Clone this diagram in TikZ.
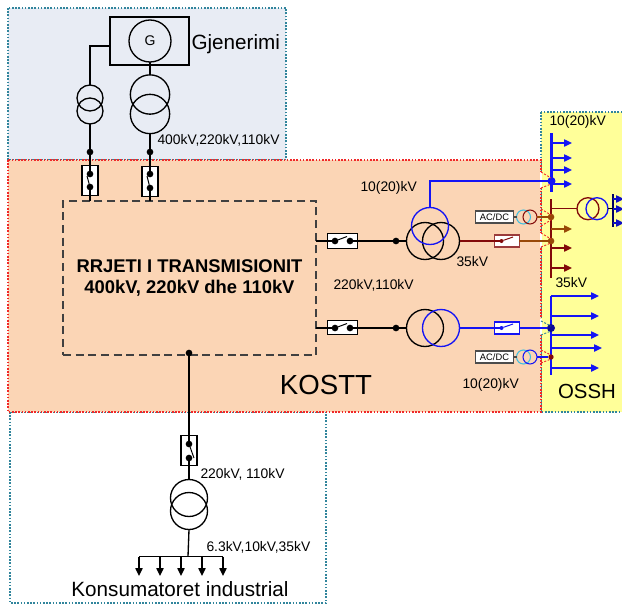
\documentclass[tikz,border=0pt]{standalone}
\usepackage{fontspec}
\setmainfont{Liberation Sans}
\usetikzlibrary{arrows.meta}
\definecolor{genfill}{RGB}{232,236,244}
\definecolor{kosttfill}{RGB}{251,213,181}
\definecolor{osshfill}{RGB}{255,255,153}
\definecolor{edgeteal}{RGB}{49,133,156}
\definecolor{edgered}{RGB}{240,40,40}
\definecolor{hvblue}{RGB}{20,20,245}
\definecolor{mvred}{RGB}{130,10,10}
\definecolor{tapbrown}{RGB}{152,72,7}
\definecolor{acblue}{RGB}{60,190,225}

\tikzset{every picture/.style={line width=0.75pt}}
\tikzset{
	region/.style={draw=edgeteal, line width=0.8pt, dash pattern=on 1.2pt off 1.2pt},
	regionred/.style={draw=edgered, line width=0.9pt, dash pattern=on 1.2pt off 1.2pt},
	coil/.style={draw, circle, inner sep=0pt, outer sep=0pt, line width=1pt},
	coilbig/.style={coil, minimum size=28.5pt},
	coilsmall/.style={coil, minimum size=19.5pt},
	coilmini/.style={coil, minimum size=10.5pt, line width=0.8pt},
	swbox/.style={draw, fill=white, inner sep=0pt, outer sep=0pt, line width=0.8pt},
	swv/.style={swbox, minimum width=12pt, minimum height=22pt},
	swh/.style={swbox, minimum width=23pt, minimum height=11pt},
	swhs/.style={swbox, minimum width=18.5pt, minimum height=9pt},
	acbox/.style={draw=black!70, fill=white, line width=0.9pt, inner sep=0pt, minimum width=29pt, minimum height=9pt, font=\fontsize{7}{8}\selectfont},
	dot/.style={circle, fill, inner sep=0pt, outer sep=0pt, minimum size=5pt},
	dotbig/.style={dot, minimum size=6pt},
	wire/.style={line width=1pt},
	blade/.style={line width=0.75pt},
	bus/.style={line width=1.6pt},
	feeder/.style={line width=1pt, -{Triangle[length=6pt,width=5.5pt]}},
	tap/.style={line width=0.7pt, dash pattern=on 1.5pt off 1.2pt},
	lbl/.style={inner sep=0pt, font=\fontsize{10.4}{12}\selectfont},
	lblbig/.style={inner sep=0pt, font=\fontsize{15.5}{18}\selectfont}
}

\begin{document}
\begin{tikzpicture}[x=0.75pt,y=0.75pt,yscale=-1]
	\useasboundingbox (0,0) rectangle (622,604);
	% areas
	\draw [region, fill=genfill] (8,8) rectangle (286,160);
	\draw [region] (10,412) rectangle (326,603);
	\draw [region, fill=osshfill] (541,112) rectangle (624,412);
	\draw [regionred, fill=kosttfill] (8,160) rectangle (541,412);
	\fill [white] (539.5,172) rectangle (542,188);
	\fill [white] (539.5,233) rectangle (542,247);
	\fill [white] (539.5,319) rectangle (542,334);

	% generation
	\node [draw, line width=0.8pt, minimum width=59.25pt, minimum height=36pt, inner sep=0pt, outer sep=0pt] (genbox) at (149.5,41) {};
	\node [coil, minimum size=31.5pt, font=\fontsize{10.5}{12}\selectfont] (gen) at (150,41) {G};
	\node [coilbig, minimum size=29.5pt] (tgA) at (150,94.5) {};
	\node [coilbig, minimum size=29.5pt] (tgB) at (150,114) {};
	\node [coilsmall] (tsA) at (90,98) {};
	\node [coilsmall] (tsB) at (90,111) {};
	\coordinate (genbend) at (90,46);
	\coordinate (genout) at (110,46);
	\draw [wire] (genout) -- (genbend) -- (tsA.north);
	\draw [wire] (gen.south) -- (tgA.north);

	% main grid
	\node [draw=black!75, line width=1pt, dash pattern=on 6pt off 3.5pt, minimum width=189.75pt, minimum height=115.5pt, inner sep=0pt, outer sep=0pt] (grid) at (189.5,278) {};
	\node [inner sep=0pt, align=center, font=\fontsize{13.8}{15.75}\selectfont\bfseries] (gridlabel) at (189.5,277.5) {RRJETI I TRANSMISIONIT\\400kV, 220kV dhe 110kV};

	% switches to the generators
	\node [swv] (swgA) at (90,180.5) {};
	\node [swv] (swgB) at (150,181.5) {};
	\node [dot] (swgAa) at (90,174) {};
	\node [dot] (swgAb) at (90,187) {};
	\node [dot] (swgBa) at (150,174) {};
	\node [dot] (swgBb) at (150,188) {};
	\node [dot] (jgA) at (90,152) {};
	\node [dot] (jgB) at (150,152) {};
	\draw [wire] (tsB.south) -- (jgA) -- (swgAa);
	\draw [wire] (swgAb) -- (swgAb |- grid.north);
	\draw [wire] (tgB.south) -- (jgB) -- (swgBa);
	\draw [wire] (swgBb) -- (swgBb |- grid.north);
	\draw [blade] (swgAa.center) ++(-3,2) -- (swgAb);
	\draw [blade] (swgBa.center) ++(-3,2) -- (swgBb);

	% three winding transformer
	\node [swh] (swA) at (342.5,241) {};
	\node [dot] (swAa) at (335,241) {};
	\node [dot] (swAb) at (350,241) {};
	\node [dot] (jA) at (396,241) {};
	\node [coil, minimum size=27.75pt] (twA) at (425,241) {};
	\node [coil, minimum size=27.75pt] (twB) at (441,241) {};
	\node [coil, draw=hvblue, minimum size=27.75pt] (twC) at (430,226) {};
	\draw [wire] (grid.east |- swA) -- (swAa);
	\draw [blade] (swAa) -- (347,236.5);
	\draw [wire] (swAb) -- (jA) -- (twA.west);

	% two winding transformer
	\node [swh] (swB) at (342.5,327.5) {};
	\node [dot] (swBa) at (335,328) {};
	\node [dot] (swBb) at (350,328) {};
	\node [dot] (jB) at (396,328) {};
	\node [coil, minimum size=27.75pt] (tlA) at (425,328) {};
	\node [coil, draw=hvblue, minimum size=27.75pt] (tlB) at (441,328) {};
	\draw [wire] (grid.east |- swBa) -- (swBa);
	\draw [blade] (swBa) -- (347,323.5);
	\draw [wire] (swBb) -- (jB) -- (tlA.west);

	% upper blue bus
	\coordinate (busAt) at (551.5,133);
	\coordinate (busAb) at (551.5,192);
	\draw [bus, hvblue] (busAt) -- (busAb);
	\node [dotbig, hvblue] (jC) at (551.5,181) {};
	\coordinate (bendC) at (430,181);
	\draw [wire, hvblue] (twC.north) -- (bendC) -- (jC);
	\coordinate (fa1) at (551.5,143);
	\coordinate (fa1e) at (572,143);
	\coordinate (fa2) at (551.5,158);
	\coordinate (fa2e) at (572,158);
	\coordinate (fa3) at (551.5,170);
	\coordinate (fa3e) at (572,170);
	\coordinate (fa4) at (551.5,184);
	\coordinate (fa4e) at (572,184);
	\draw [feeder, hvblue] (fa1) -- (fa1e);
	\draw [feeder, hvblue] (fa2) -- (fa2e);
	\draw [feeder, hvblue] (fa3) -- (fa3e);
	\draw [feeder, hvblue] (fa4) -- (fa4e);

	% dark red bus
	\coordinate (busBt) at (551,199);
	\coordinate (busBb) at (551,278);
	\draw [bus, mvred] (busBt) -- (busBb);
	\node [swhs, draw=mvred!80] (swC) at (507,241) {};
	\node [dot, mvred, minimum size=3pt] (swCa) at (501.5,241) {};
	\node [dot, tapbrown] (jD) at (551,241) {};
	\node [dot, tapbrown] (jE) at (551,217) {};
	\draw [wire, mvred] (twB.east) -- (swCa);
	\draw [blade, mvred] (swCa) -- (513,237);
	\draw [wire, tapbrown] (swC.east) -- (jD);
	\coordinate (fb1) at (551,229);
	\coordinate (fb1e) at (572,229);
	\coordinate (fb2) at (551,248);
	\coordinate (fb2e) at (572,248);
	\coordinate (fb3) at (551,268);
	\coordinate (fb3e) at (572,268);
	\draw [feeder, tapbrown] (fb1) -- (fb1e);
	\draw [feeder, mvred] (fb2) -- (fb2e);
	\draw [feeder, mvred] (fb3) -- (fb3e);

	% small transformer in the yellow area
	\node [coil, draw=mvred, minimum size=16.5pt] (toA) at (588,208.7) {};
	\node [coil, draw=hvblue, minimum size=16.5pt] (toB) at (597,208.7) {};
	\coordinate (busCt) at (613,194);
	\coordinate (busCb) at (613,227);
	\coordinate (busCm) at (613,208.7);
	\coordinate (outA) at (551,208.7);
	\draw [line width=1.1pt, black!60!blue] (busCt) -- (busCb);
	\draw [wire, mvred] (outA) -- (toA.west);
	\draw [wire, black] (toB.east) -- (busCm);
	\coordinate (fc1) at (613,199);
	\coordinate (fc1e) at (624,199);
	\coordinate (fc2) at (613,209);
	\coordinate (fc2e) at (624,209);
	\coordinate (fc3) at (613,223);
	\coordinate (fc3e) at (624,223);
	\draw [feeder, hvblue!80!black] (fc1) -- (fc1e);
	\draw [feeder, hvblue!80!black] (fc2) -- (fc2e);
	\draw [feeder, hvblue!80!black] (fc3) -- (fc3e);

	% upper rectifier
	\node [acbox] (acA) at (494.5,217) {AC/DC};
	\node [coilmini, draw=acblue] (acAa) at (523.5,217) {};
	\node [coilmini, draw=mvred] (acAb) at (530,217) {};
	\draw [wire, tapbrown] (acAb.east) -- (jE);
	\draw [wire, black!70] (acA.east) -- (acAa.west);

	% lower blue bus
	\coordinate (busDt) at (551,296);
	\coordinate (busDb) at (551,375);
	\draw [bus, hvblue] (busDt) -- (busDb);
	\node [swhs, draw=hvblue] (swD) at (507,328) {};
	\node [dot, hvblue, minimum size=3pt] (swDa) at (501.5,328) {};
	\node [dotbig, black!40!hvblue] (jF) at (551,328) {};
	\node [dot, mvred, minimum size=4pt] (jG) at (551,357) {};
	\draw [wire, hvblue] (tlB.east) -- (swDa);
	\draw [blade, hvblue] (swDa) -- (513,324);
	\draw [wire, hvblue] (swD.east) -- (jF);
	\coordinate (fd1) at (551,296);
	\coordinate (fd1e) at (599,296);
	\coordinate (fd2) at (551,316);
	\coordinate (fd2e) at (599,316);
	\coordinate (fd3) at (551,335);
	\coordinate (fd3e) at (599,335);
	\coordinate (fd4) at (551,348);
	\coordinate (fd4e) at (602,348);
	\coordinate (fd5) at (551,368);
	\coordinate (fd5e) at (599,368);
	\draw [feeder, hvblue] (fd1) -- (fd1e);
	\draw [feeder, hvblue] (fd2) -- (fd2e);
	\draw [feeder, hvblue] (fd3) -- (fd3e);
	\draw [feeder, hvblue] (fd4) -- (fd4e);
	\draw [feeder, hvblue] (fd5) -- (fd5e);

	% lower rectifier
	\node [acbox] (acB) at (494.5,357) {AC/DC};
	\node [coilmini, draw=acblue] (acBa) at (523.5,357) {};
	\node [coilmini, draw=hvblue] (acBb) at (530,357) {};
	\draw [wire, hvblue] (acBb.east) -- (jG);
	\draw [wire, black!70] (acB.east) -- (acBa.west);

	% dotted tails at the border
	\draw [tap, edgered] (541,172) -- (551,178);
	\draw [tap, edgered] (541,188) -- (551,184);
	\draw [tap, edgered] (541,209) -- (551,215);
	\draw [tap, edgered] (541,226) -- (551,220);
	\draw [tap, edgered] (541,233) -- (551,239);
	\draw [tap, edgered] (541,247) -- (551,243);
	\draw [tap, edgeteal] (541,321) -- (551,326);
	\draw [tap, edgeteal] (541,335) -- (551,331);
	\draw [tap, edgered] (541,350) -- (551,355);
	\draw [tap, edgered] (541,363) -- (551,359);

	% industrial customer
	\node [dot] (jH) at (189,353) {};
	\node [swv] (swH) at (189,450.5) {};
	\node [dot] (swHa) at (189,444) {};
	\node [dot] (swHb) at (189,458) {};
	\node [coil, minimum size=27.75pt] (tiA) at (189,498) {};
	\node [coil, minimum size=27.75pt] (tiB) at (189,511) {};
	\draw [wire] (jH) -- (swHa);
	\draw [blade] (swHa.center) ++(5,14) -- (swHa);
	\draw [wire] (swHb) -- (tiA.north);
	\coordinate (loadbus) at (188,556.5);
	\coordinate (lA) at (139,556.5);
	\coordinate (lB) at (160,556.5);
	\coordinate (lC) at (181,556.5);
	\coordinate (lD) at (202,556.5);
	\coordinate (lE) at (223,556.5);
	\coordinate (lAe) at (139,576);
	\coordinate (lBe) at (160,576);
	\coordinate (lCe) at (181,576);
	\coordinate (lDe) at (202,576);
	\coordinate (lEe) at (223,576);
	\draw [wire] (tiB.south) -- (loadbus);
	\draw [wire] (lA) -- (lE);
	\draw [feeder, black] (lA) -- (lAe);
	\draw [feeder, black] (lB) -- (lBe);
	\draw [feeder, black] (lC) -- (lCe);
	\draw [feeder, black] (lD) -- (lDe);
	\draw [feeder, black] (lE) -- (lEe);

	% labels
	\node [lblbig, anchor=west] (gentext) at (191,44) {Gjenerimi};
	\node [lbl, anchor=west] (vgen) at (157,140) {400kV,220kV,110kV};
	\node [lbl, anchor=west] (vtopA) at (360,188) {10(20)kV};
	\node [lbl, anchor=west] (vtopB) at (456,262) {35kV};
	\node [lbl, anchor=west] (vmid) at (333,285) {220kV,110kV};
	\node [lbl, anchor=west] (vossA) at (549,122) {10(20)kV};
	\node [lbl, anchor=west] (vossB) at (555,283) {35kV};
	\node [lbl, anchor=west] (vossC) at (462,385) {10(20)kV};
	\node [lblbig, font=\fontsize{20.7}{24}\selectfont] (kostt) at (326,384.5) {KOSTT};
	\node [lblbig, font=\fontsize{15.3}{18}\selectfont] (ossh) at (587,391) {OSSH};
	\node [lbl, anchor=west] (vindA) at (200,474) {220kV, 110kV};
	\node [lbl, anchor=west] (vindB) at (206,547) {6.3kV,10kV,35kV};
	\node [lblbig] (indtext) at (180,589) {Konsumatoret industrial};
\end{tikzpicture}
\end{document}
